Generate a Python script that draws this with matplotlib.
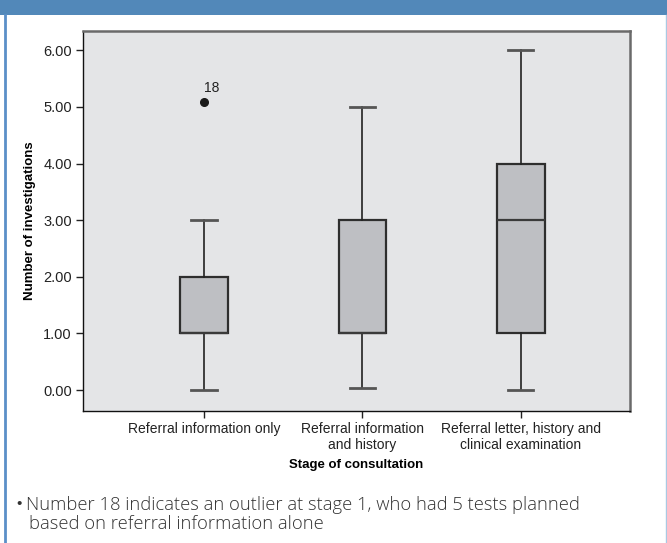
import matplotlib
matplotlib.use("Agg")
import matplotlib.pyplot as plt
from matplotlib.patches import Rectangle
from matplotlib.lines import Line2D

# ---- data ----
categories = ["Referral information only",
              "Referral information\nand history",
              "Referral letter, history and\nclinical examination"]
whisker_low = [0.0, 0.03, 0.0]
q1 = [1.0, 1.0, 1.0]
medians = [1.0, 1.0, 3.0]
q3 = [2.0, 3.0, 4.0]
whisker_high = [3.0, 5.0, 6.0]
outlier_values = [[5.08], [], []]
outlier_labels = [["18"], [], []]
yticks = [0, 1, 2, 3, 4, 5, 6]
ylabel = "Number of investigations"
xlabel = "Stage of consultation"
note_bullet = "\u2022"
note_line1 = "Number 18 indicates an outlier at stage 1, who had 5 tests planned"
note_line2 = "based on referral information alone"

plt.rcParams['font.family'] = ['Liberation Sans', 'DejaVu Sans']

W, H = 667, 543
fig = plt.figure(figsize=(W / 100, H / 100), dpi=100)

# panel decorations
fig.add_artist(Rectangle((0, 1 - 15 / H), 1, 15 / H, transform=fig.transFigure,
                         facecolor="#5288b9", edgecolor="none"))
fig.add_artist(Line2D([4.5 / W, 4.5 / W], [0, 1 - 15 / H], transform=fig.transFigure,
                      color="#5b8fc8", lw=2))
fig.add_artist(Line2D([665.5 / W, 665.5 / W], [0, 1 - 15 / H], transform=fig.transFigure,
                      color="#a9c9e3", lw=1))

ax = fig.add_axes([83 / W, 1 - 411 / H, (630 - 83) / W, (411 - 31) / H])
ax.set_facecolor("#e4e5e7")

positions = [1, 2, 3]
stats = []
for i in range(3):
    stats.append(dict(med=medians[i], q1=q1[i], q3=q3[i],
                      whislo=whisker_low[i], whishi=whisker_high[i],
                      fliers=outlier_values[i], label=categories[i]))
ax.bxp(stats, positions=positions, widths=0.30, patch_artist=True, showfliers=True,
       boxprops=dict(facecolor="#bebfc3", edgecolor="#2e2e2e", linewidth=1.6),
       medianprops=dict(color="#3a3a3a", linewidth=1.6),
       whiskerprops=dict(color="#222222", linewidth=1.2),
       capprops=dict(color="#555555", linewidth=2.0),
       capwidths=0.16,
       flierprops=dict(marker="o", markerfacecolor="#1a1a1a", markeredgecolor="#1a1a1a",
                       markersize=5.5))

for i in range(3):
    for v, lab in zip(outlier_values[i], outlier_labels[i]):
        ax.annotate(lab, (positions[i], v), xytext=(0, 5.5), textcoords="offset points",
                    ha="left", va="bottom", fontsize=10, color="#222222")

ax.set_xlim(0.235, 3.69)
ax.set_ylim(-0.37, 6.34)
ax.set_yticks(yticks)
ax.set_yticklabels([f"{v:.2f}" for v in yticks])
ax.set_xticks(positions)
ax.set_xticklabels(categories, linespacing=1.15)
ax.tick_params(axis="both", labelsize=10, colors="#222222", length=5, width=1, direction="out")
ax.tick_params(axis="y", labelsize=10.5)
ax.tick_params(axis="x", pad=3)
ax.tick_params(axis="y", pad=3)

for s in ["top", "right"]:
    ax.spines[s].set_color("#6a6a6a")
    ax.spines[s].set_linewidth(1.8)
for s in ["left", "bottom"]:
    ax.spines[s].set_color("#111111")
    ax.spines[s].set_linewidth(1.0)

ax.set_ylabel(ylabel, fontsize=9.5, fontweight="bold", labelpad=5)
ax.set_xlabel(xlabel, fontsize=9.5, fontweight="bold", labelpad=5)

note_family = ["Open Sans", "Liberation Sans", "DejaVu Sans"]
fig.text(16 / W, 1 - 504 / H, note_bullet, fontsize=11, va="center", ha="left",
         color="#333333")
fig.text(26 / W, 1 - 505 / H, note_line1, fontsize=13.2, va="center", ha="left",
         color="#333333", family=note_family, fontweight="light")
fig.text(29 / W, 1 - 524 / H, note_line2, fontsize=13.2, va="center", ha="left",
         color="#333333", family=note_family, fontweight="light")

fig.savefig("out.png", dpi=100)
